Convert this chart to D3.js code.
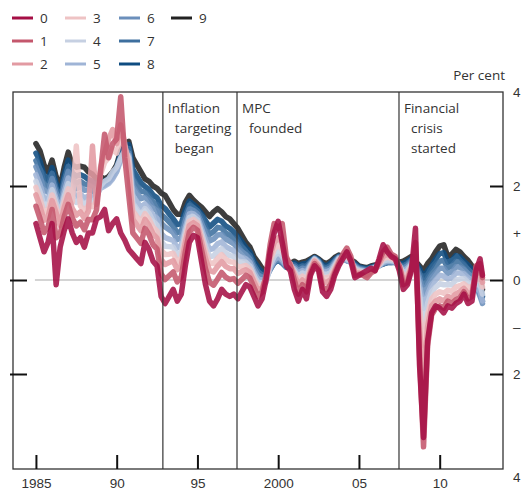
<!DOCTYPE html>
<html><head><meta charset="utf-8">
<script src="https://cdn.jsdelivr.net/npm/d3@7"></script>
<style>
html,body{margin:0;padding:0;background:#fff;}
svg{display:block;font-family:"Open Sans","Noto Sans",sans-serif;}
</style></head>
<body><svg id="c" width="523" height="490"></svg>
<script>
// ---- data ----
const seriesNames = ["0","1","2","3","4","5","6","7","8","9"];
const seriesColors = ["#a50f45","#c4576c","#e29aa2","#eec3c4","#c6d0e2","#9fb4d6","#6b8fbb","#3d6f9e","#0f4c81","#222222"];
// quarterly observation dates (decimal years) and the last observation
const dates = d3.range(0, 111).map(i => 1985 + i * 0.25).concat([2012.65]);

const s0 = [1.2,0.9,0.6,0.8,1.2,-0.1,0.7,1.05,1.3,1.0,
0.8,0.9,0.7,1.0,1.0,1.3,1.35,1.5,1.05,1.2,
1.3,1.0,0.85,0.65,0.55,0.45,0.35,0.8,0.65,0.4,
0.3,-0.35,-0.5,-0.35,-0.2,-0.45,-0.3,0.3,0.8,0.95,
0.9,0.4,-0.1,-0.45,-0.55,-0.4,-0.2,-0.3,-0.35,-0.3,
-0.4,-0.25,-0.1,-0.15,-0.35,-0.55,-0.4,0.0,0.6,1.0,
1.25,0.8,0.3,0.2,-0.2,-0.45,-0.2,-0.4,0.1,0.3,
0.2,-0.25,-0.35,-0.2,0.1,0.3,0.45,0.6,0.4,0.05,
0.1,0.15,0.2,0.25,0.2,0.45,0.75,0.6,0.5,0.45,
0.2,-0.2,-0.1,0.2,1.1,-1.8,-3.35,-1.3,-0.7,-0.55,
-0.6,-0.7,-0.55,-0.6,-0.5,-0.45,-0.3,-0.5,-0.45,0.2,0.45,0.1];
const s1 = [1.57,1.31,1.01,1.13,1.5,0.9,0.98,1.35,1.61,1.32,
1.15,1.23,1.07,1.29,1.28,1.49,2.3,3.1,2.6,2.9,
3.0,3.9,2.6,1.8,1.0,0.89,0.78,1.1,0.97,0.75,
0.66,0.13,0.01,0.09,0.17,-0.04,0.07,0.6,1.02,1.12,
1.06,0.65,0.24,-0.05,-0.11,0.02,0.16,0.06,0.01,0.03,
-0.07,0.01,0.1,0.04,-0.16,-0.35,-0.26,0.1,0.75,1.2,
1.1,1.2,0.5,0.3,0.0,-0.3,-0.1,-0.25,0.15,0.35,
0.25,-0.15,-0.2,-0.1,0.15,0.35,0.55,0.68,0.5,0.1,
0.12,0.1,0.05,0.15,0.2,0.4,0.6,0.7,0.55,0.5,
0.3,-0.1,-0.05,0.25,0.8,-1.6,-3.55,-1.4,-0.75,-0.6,
-0.55,-0.6,-0.45,-0.5,-0.42,-0.38,-0.25,-0.4,-0.35,0.3,0.35,0.05];
const s2 = [1.81,1.57,1.27,1.34,1.69,1.43,1.16,1.54,1.81,1.52,
1.38,1.45,1.31,1.47,2.85,1.61,2.4,2.7,3.0,3.2,
2.9,3.3,2.9,2.3,1.29,1.17,1.05,1.29,1.17,0.98,
0.89,0.44,0.33,0.37,0.41,0.22,0.31,0.79,1.16,1.22,
1.16,0.81,0.46,0.2,0.17,0.29,0.39,0.29,0.24,0.24,
0.14,0.18,0.22,0.16,-0.04,-0.22,-0.17,0.05,0.5,0.8,
0.9,0.8,0.45,0.35,0.1,-0.1,0.0,-0.1,0.2,0.4,
0.3,-0.05,-0.05,0.0,0.2,0.4,0.5,0.55,0.45,0.15,
0.15,0.12,0.1,0.18,0.22,0.35,0.5,0.55,0.5,0.45,
0.3,0.0,0.05,0.28,0.5,-1.0,-2.2,-1.0,-0.55,-0.45,
-0.4,-0.45,-0.35,-0.38,-0.3,-0.25,-0.18,-0.28,-0.25,0.15,0.2,-0.05];
const s3 = [1.97,1.73,1.43,1.48,1.81,1.54,1.28,1.66,1.94,1.65,
2.85,1.58,1.47,1.59,1.56,1.68,2.25,2.5,2.6,2.8,
2.7,3.0,2.85,2.5,1.47,1.35,1.23,1.41,1.3,1.12,
1.04,0.64,0.54,0.55,0.57,0.38,0.47,0.91,1.25,1.29,
1.22,0.92,0.6,0.36,0.35,0.46,0.54,0.44,0.39,0.38,
0.28,0.29,0.31,0.23,0.03,-0.13,-0.11,0.0,0.4,0.65,
0.75,0.65,0.4,0.33,0.15,0.0,0.08,0.0,0.25,0.42,
0.33,0.05,0.05,0.08,0.25,0.42,0.48,0.5,0.42,0.2,
0.18,0.15,0.13,0.2,0.24,0.33,0.45,0.48,0.46,0.42,
0.3,0.08,0.12,0.3,0.35,-0.6,-1.4,-0.75,-0.4,-0.3,
-0.25,-0.28,-0.22,-0.24,-0.15,-0.12,-0.08,-0.15,-0.15,0.0,0.05,-0.15];
const s4 = [2.10,1.88,1.58,1.6,1.92,1.64,1.38,1.77,2.05,1.77,
1.65,1.71,1.6,1.69,1.66,1.75,2.0,2.1,2.15,2.3,
2.4,2.6,2.75,2.6,1.64,1.51,1.38,1.52,1.42,1.25,
1.17,0.82,0.72,0.71,0.7,0.53,0.6,1.02,1.33,1.35,
1.28,1.01,0.72,0.5,0.51,0.62,0.67,0.57,0.52,0.5,
0.4,0.39,0.38,0.3,0.1,-0.06,-0.06,-0.05,0.3,0.5,
0.6,0.5,0.35,0.3,0.2,0.08,0.15,0.1,0.3,0.44,
0.35,0.12,0.12,0.15,0.3,0.45,0.46,0.45,0.4,0.24,
0.2,0.18,0.16,0.22,0.26,0.31,0.4,0.43,0.42,0.4,
0.3,0.15,0.2,0.33,0.3,-0.3,-1.0,-0.5,-0.25,-0.15,
-0.08,-0.1,-0.1,-0.1,0.0,0.02,0.03,-0.05,-0.08,-0.1,-0.1,-0.3];
const s5 = [2.24,2.03,1.73,1.72,2.02,1.73,1.48,1.87,2.17,1.88,
1.78,1.83,1.74,1.79,1.76,1.82,1.95,2.0,2.05,2.15,
2.3,2.55,2.7,2.65,1.8,1.67,1.54,1.62,1.53,1.38,
1.31,0.99,0.9,0.87,0.84,0.68,0.74,1.12,1.41,1.41,
1.34,1.1,0.85,0.65,0.67,0.77,0.81,0.71,0.66,0.62,
0.52,0.48,0.45,0.37,0.17,0.02,0.0,0.0,0.25,0.42,
0.5,0.42,0.3,0.3,0.24,0.15,0.2,0.17,0.33,0.45,
0.37,0.18,0.18,0.21,0.34,0.47,0.45,0.42,0.38,0.27,
0.22,0.2,0.18,0.24,0.27,0.3,0.37,0.4,0.4,0.38,
0.3,0.2,0.25,0.36,0.3,-0.1,-0.6,-0.3,-0.1,0.0,
0.1,0.08,0.02,0.04,0.15,0.15,0.13,0.05,0.0,-0.15,-0.25,-0.45];
const s6 = [2.41,2.21,1.91,1.87,2.16,1.85,1.61,2.01,2.31,2.03,
1.94,1.98,1.91,1.92,1.89,1.9,2.0,2.02,2.08,2.18,
2.32,2.6,2.75,2.7,2.01,1.87,1.73,1.76,1.68,1.54,
1.47,1.21,1.13,1.07,1.01,0.86,0.91,1.26,1.51,1.48,
1.41,1.22,1.0,0.83,0.87,0.96,0.97,0.87,0.82,0.77,
0.67,0.6,0.54,0.45,0.25,0.11,0.06,0.05,0.22,0.38,
0.45,0.38,0.28,0.3,0.28,0.2,0.25,0.23,0.36,0.46,
0.39,0.23,0.22,0.26,0.38,0.48,0.45,0.41,0.38,0.3,
0.24,0.22,0.2,0.25,0.28,0.3,0.35,0.38,0.38,0.37,
0.31,0.25,0.3,0.4,0.32,0.05,-0.3,-0.1,0.05,0.15,
0.25,0.25,0.14,0.17,0.28,0.27,0.22,0.14,0.07,-0.12,-0.35,-0.5];
const s7 = [2.54,2.36,2.06,1.99,2.27,1.95,1.71,2.12,2.42,2.15,
2.06,2.1,2.04,2.03,1.99,1.97,2.05,2.06,2.12,2.22,
2.36,2.65,2.8,2.8,2.17,2.03,1.89,1.87,1.8,1.66,
1.6,1.39,1.32,1.23,1.14,1.01,1.04,1.37,1.59,1.54,
1.47,1.31,1.12,0.97,1.03,1.12,1.1,1.0,0.95,0.89,
0.79,0.7,0.61,0.52,0.32,0.18,0.11,0.08,0.22,0.36,
0.42,0.36,0.27,0.31,0.32,0.25,0.3,0.29,0.39,0.47,
0.41,0.28,0.26,0.31,0.41,0.5,0.46,0.41,0.39,0.32,
0.26,0.24,0.22,0.26,0.29,0.31,0.34,0.37,0.37,0.37,
0.33,0.3,0.35,0.43,0.34,0.15,-0.1,0.05,0.17,0.3,
0.4,0.42,0.26,0.3,0.4,0.38,0.31,0.23,0.14,-0.05,-0.3,-0.45];
const s8 = [2.70,2.53,2.23,2.12,2.39,2.06,1.83,2.24,2.55,2.28,
2.21,2.24,2.2,2.14,2.1,2.05,2.1,2.1,2.16,2.26,
2.4,2.7,2.85,2.88,2.35,2.21,2.07,1.99,1.93,1.81,
1.75,1.59,1.52,1.41,1.3,1.18,1.2,1.49,1.68,1.61,
1.53,1.41,1.26,1.13,1.21,1.29,1.25,1.15,1.1,1.02,
0.92,0.81,0.69,0.6,0.4,0.27,0.17,0.12,0.25,0.37,
0.42,0.36,0.28,0.33,0.36,0.3,0.34,0.35,0.42,0.48,
0.43,0.33,0.3,0.36,0.44,0.51,0.48,0.42,0.4,0.35,
0.28,0.26,0.24,0.28,0.3,0.32,0.34,0.37,0.37,0.38,
0.35,0.35,0.4,0.46,0.37,0.25,0.05,0.2,0.3,0.45,
0.56,0.58,0.38,0.42,0.52,0.49,0.4,0.32,0.22,0.05,-0.15,-0.35];
const s9 = [2.9,2.75,2.45,2.3,2.55,2.2,1.98,2.4,2.72,2.45,
2.4,2.42,2.4,2.3,2.25,2.15,2.2,2.15,2.2,2.3,
2.45,2.75,2.9,2.95,2.6,2.45,2.3,2.15,2.1,2.0,
1.95,1.85,1.8,1.65,1.5,1.4,1.4,1.65,1.8,1.7,
1.62,1.55,1.45,1.35,1.45,1.52,1.45,1.35,1.3,1.2,
1.1,0.95,0.8,0.7,0.5,0.38,0.25,0.18,0.3,0.4,
0.45,0.38,0.3,0.35,0.4,0.35,0.38,0.4,0.45,0.5,
0.45,0.38,0.35,0.4,0.48,0.53,0.5,0.45,0.43,0.38,
0.3,0.28,0.26,0.3,0.32,0.33,0.35,0.38,0.38,0.4,
0.38,0.4,0.45,0.5,0.4,0.3,0.2,0.35,0.45,0.6,
0.72,0.75,0.5,0.55,0.65,0.6,0.5,0.42,0.3,0.22,0.0,-0.2];
const seriesValues = [s0,s1,s2,s3,s4,s5,s6,s7,s8,s9];

const xTickValues = [1985,1990,1995,2000,2005,2010];
const xTickLabels = ["1985","90","95","2000","05","10"];
const yTickValues = [4,2,1,0,-1,-2,-4];
const yTickLabels = ["4","2","+","0","\u2013","2","4"];
const events = [1992.86, 1997.45, 2007.48];
const eventLabels = [["Inflation","targeting","began"],["MPC","founded"],["Financial","crisis","started"]];

// ---- drawing ----
const svg = d3.select("#c");
const L = 13, R = 503, T = 92, B = 469;
const x = d3.scaleLinear().domain([1983.58, 2013.92]).range([L, R]);
const y = d3.scaleLinear().domain([-4, 4]).range([468, 92]);
const ink = "#333";

svg.append("rect").attr("width",523).attr("height",490).attr("fill","#fff");

svg.append("defs").append("clipPath").attr("id","plot")
  .append("rect").attr("x",L).attr("y",T).attr("width",R-L).attr("height",B-T);

// zero line
svg.append("line").attr("x1", x(1985) - 1).attr("x2", R - 13)
  .attr("y1", y(0)).attr("y2", y(0)).attr("stroke","#aaa").attr("stroke-width",1.2);

// series lines (long end first, short end on top)
const line = d3.line().x((d,i) => x(dates[i])).y(d => y(d));
const g = svg.append("g").attr("clip-path","url(#plot)");
for (let k = 9; k >= 0; k--) {
  g.append("path").datum(seriesValues[k])
    .attr("d", line).attr("fill","none")
    .attr("stroke", seriesColors[k]).attr("stroke-width", 5.5)
    .attr("stroke-linejoin","round").attr("stroke-linecap","round")
    .attr("stroke-opacity", 0.88);
}

// event lines
svg.selectAll(".ev").data(events).join("line")
  .attr("x1", d => x(d)).attr("x2", d => x(d)).attr("y1", T).attr("y2", B)
  .attr("stroke", ink).attr("stroke-width", 1.2);

// frame
svg.append("rect").attr("x",L).attr("y",T).attr("width",R-L).attr("height",B-T)
  .attr("fill","none").attr("stroke",ink).attr("stroke-width",1.3);

// bottom axis
const xa = svg.append("g").attr("transform",`translate(0,${B})`)
  .call(d3.axisBottom(x).tickValues(xTickValues).tickFormat((d,i)=>xTickLabels[i]).tickSize(-14).tickPadding(9));
xa.select(".domain").remove();
xa.selectAll(".tick line").attr("stroke","#111").attr("stroke-width",2);
xa.selectAll("text").attr("font-size",13.5).attr("fill",ink).attr("font-family","inherit");

// right axis
const ya = svg.append("g").attr("transform",`translate(${R},0)`)
  .call(d3.axisRight(y).tickValues(yTickValues).tickFormat((d,i)=>yTickLabels[i]).tickSize(-13).tickPadding(10));
ya.select(".domain").remove();
ya.selectAll(".tick line").attr("stroke","#111").attr("stroke-width",2)
  .attr("display", d => (d===2||d===0||d===-2) ? null : "none");
ya.selectAll("text").attr("font-size",13.5).attr("fill",ink).attr("font-family","inherit");
ya.selectAll(".tick").filter(d => d===-4).select("text").attr("dy","1.0em");

// left ticks
const la = svg.append("g").attr("transform",`translate(${L},0)`)
  .call(d3.axisLeft(y).tickValues([2,0,-2]).tickFormat("").tickSize(-14));
la.select(".domain").remove();
la.selectAll(".tick line").attr("stroke","#111").attr("stroke-width",2).attr("x1",-3);

// unit
svg.append("text").attr("x",505).attr("y",80).attr("text-anchor","end")
  .attr("font-size",13.5).attr("fill",ink).text("Per cent");

// event annotations
eventLabels.forEach((lines,j) => {
  lines.forEach((t,m) => {
    svg.append("text").attr("x", x(events[j]) + (m===0 ? 5 : 12)).attr("y", 113 + 20*m)
      .attr("font-size",13.5).attr("fill",ink).text(t);
  });
});

// legend
const legCols = [12, 65, 119, 171], legRows = [18, 41, 64];
seriesNames.forEach((n,k) => {
  const c = Math.floor(k/3), r = k%3;
  const lx = legCols[c], ly = legRows[r];
  svg.append("line").attr("x1",lx).attr("x2",lx+21).attr("y1",ly).attr("y2",ly)
    .attr("stroke",seriesColors[k]).attr("stroke-width",3);
  svg.append("text").attr("x",lx+28).attr("y",ly+5).attr("font-size",13.5)
    .attr("fill",ink).text(n);
});
</script></body></html>
